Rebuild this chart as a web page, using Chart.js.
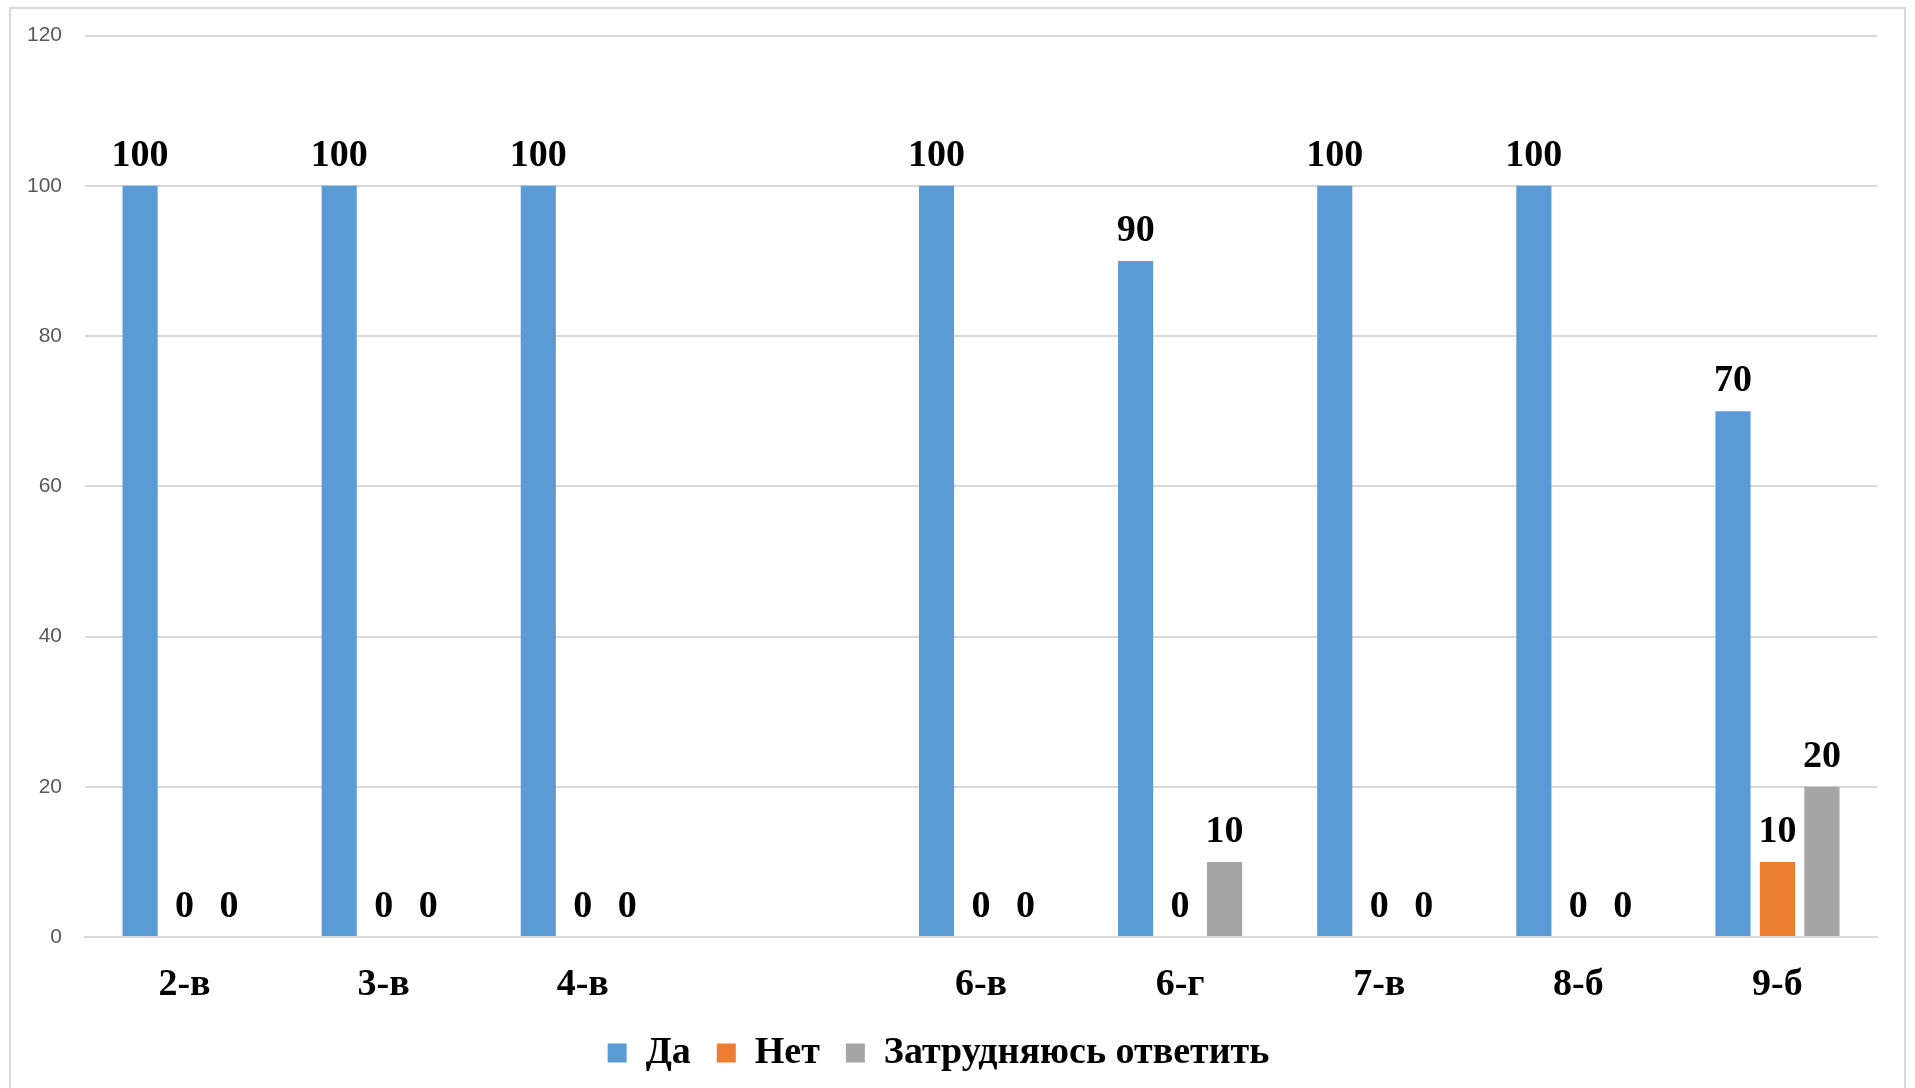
<!DOCTYPE html>
<html>
<head>
<meta charset="utf-8">
<script src="https://cdn.jsdelivr.net/npm/chart.js@4.4.0/dist/chart.umd.min.js"></script>
<style>
  html, body { margin: 0; padding: 0; background: #fff; }
  #wrap { position: relative; width: 1915px; height: 1088px; overflow: hidden; }
  #frame { position: absolute; left: 9px; top: 7px; width: 1897px; height: 1200px; border: 2px solid #d9d9d9; box-sizing: border-box; }
  canvas { position: absolute; left: 0; top: 0; }
</style>
</head>
<body>
<div id="wrap">
  <div id="frame"></div>
  <canvas id="chart" width="1915" height="1088"></canvas>
</div>
<script>
// categories (5th class is empty in the source)
const classes = ["2-в", "3-в", "4-в", "", "6-в", "6-г", "7-в", "8-б", "9-б"];
const da = [100, 100, 100, null, 100, 90, 100, 100, 70];
const net = [0, 0, 0, null, 0, 0, 0, 0, 10];
const hard = [0, 0, 0, null, 0, 10, 0, 0, 20];
const yTicks = [0, 20, 40, 60, 80, 100, 120];

const serifBold = { family: "'Liberation Serif', 'Times New Roman', serif", weight: "bold", size: 38 };

// value labels above bars
const valueLabels = {
  id: "valueLabels",
  afterDatasetsDraw(chart) {
    const ctx = chart.ctx;
    ctx.save();
    ctx.font = "bold 38px 'Liberation Serif', serif";
    ctx.fillStyle = "#000";
    ctx.textAlign = "center";
    ctx.textBaseline = "alphabetic";
    chart.data.datasets.forEach((ds, i) => {
      const meta = chart.getDatasetMeta(i);
      meta.data.forEach((bar, j) => {
        const v = ds.data[j];
        if (v === null || v === undefined) return;
        ctx.fillText(String(v), bar.x, bar.y - 20);
      });
    });
    ctx.restore();
  }
};

new Chart(document.getElementById("chart").getContext("2d"), {
  type: "bar",
  data: {
    labels: classes,
    datasets: [
      { label: "Да", data: da, backgroundColor: "#5b9bd5" },
      { label: "Нет", data: net, backgroundColor: "#ed7d31" },
      { label: "Затрудняюсь ответить", data: hard, backgroundColor: "#a5a5a5" }
    ]
  },
  options: {
    responsive: false,
    animation: false,
    categoryPercentage: 0.67,
    barPercentage: 0.79,
    layout: { padding: { left: 0, right: 38, top: 27, bottom: 6 } },
    scales: {
      y: {
        min: 0,
        max: 120,
        afterBuildTicks: (s) => { s.ticks = yTicks.map(v => ({ value: v })); },
        afterFit: (s) => { s.width = 85; },
        grid: { color: "#d9d9d9", lineWidth: 2, drawTicks: false },
        border: { display: false },
        ticks: { padding: 23, color: "#595959", font: { family: "'Liberation Sans', Arial, sans-serif", size: 21 } }
      },
      x: {
        grid: { display: false, drawTicks: false },
        border: { color: "#d9d9d9", width: 2 },
        afterFit: (s) => { s.height = 71; },
        ticks: { padding: 25, color: "#000", font: serifBold }
      }
    },
    plugins: {
      legend: {
        position: "bottom",
        labels: {
          color: "#000",
          font: serifBold,
          boxWidth: 19,
          boxHeight: 19,
          padding: 26
        }
      },
      tooltip: { enabled: false }
    }
  },
  plugins: [valueLabels]
});
</script>
</body>
</html>
